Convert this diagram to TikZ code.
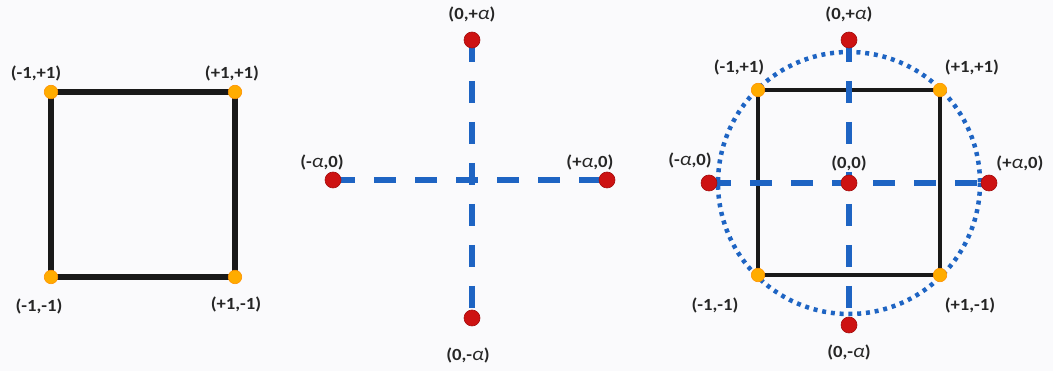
\documentclass[tikz,border=0pt]{standalone}
\usepackage{fontspec}
\setmainfont{Carlito}[FakeStretch=1.1]
\definecolor{dashblue}{RGB}{30,100,195}
\definecolor{dotred}{RGB}{205,18,18}
\definecolor{dotorange}{RGB}{255,172,0}
\definecolor{bgcol}{RGB}{250,250,252}
\newcommand{\al}{{\mdseries\fontsize{19}{19}\selectfont\textit{α}}}
\pgfdeclarelayer{paper}
\pgfdeclarelayer{under}
\pgfsetlayers{paper,under,main}
\begin{document}
\begin{tikzpicture}[x=1pt,y=-1pt,
  reddot/.style={circle,fill=dotred,draw=dotred!80!black,line width=0.6pt,inner sep=0pt,minimum size=16pt},
  orangedot/.style={circle,fill=dotorange,draw=dotorange!85!red,line width=0.6pt,inner sep=0pt,minimum size=13.5pt},
  lbl/.style={font=\fontsize{17}{19}\selectfont\bfseries,inner sep=0pt,text=black!85},
  sqedge/.style={line width=5.2pt,black!90},
  axis/.style={line width=5.5pt,dashblue,dash pattern=on 22pt off 19pt},
  ring/.style={line width=4.5pt,dashblue,dash pattern=on 4pt off 4.8pt}
]
\begin{pgfonlayer}{paper}
\fill[bgcol] (0,0) rectangle (1053,371);
\end{pgfonlayer}
\useasboundingbox (0,0) rectangle (1053,371);

% ---------- left panel ----------
\node[orangedot] (LTL) at (51,92) {};
\node[orangedot] (LTR) at (235,92) {};
\node[orangedot] (LBR) at (235,277) {};
\node[orangedot] (LBL) at (51,277) {};
\begin{pgfonlayer}{under}
\draw[sqedge] (LTL.center) -- (LTR.center) -- (LBR.center) -- (LBL.center) -- cycle;
\end{pgfonlayer}
\node[lbl] (l1) at (36,73) {(-1,+1)};
\node[lbl] (l2) at (232,73) {(+1,+1)};
\node[lbl] (l3) at (39,306) {(-1,-1)};
\node[lbl] (l4) at (236,304) {(+1,-1)};

% ---------- middle panel ----------
\node[reddot] (MT) at (472,40) {};
\node[reddot] (MB) at (472,318) {};
\node[reddot] (ML) at (333,180) {};
\node[reddot] (MR) at (607,180) {};
\begin{pgfonlayer}{under}
\draw[axis] (ML.center) -- (MR.center);
\draw[axis] (MT.center) -- (MB.center);
\end{pgfonlayer}
\node[lbl] (m1) at (472,14) {(0,+\al)};
\node[lbl] (m2) at (322,162) {(-\al,0)};
\node[lbl] (m3) at (590,162) {(+\al,0)};
\node[lbl] (m4) at (468,355) {(0,-\al)};

% ---------- right panel ----------
\node[reddot] (RC) at (849,183) {};
\node[orangedot] (RTL) at (758,90) {};
\node[orangedot] (RTR) at (940,90) {};
\node[orangedot] (RBR) at (940,275) {};
\node[orangedot] (RBL) at (758,275) {};
\node[reddot] (RT) at (849,40) {};
\node[reddot] (RB) at (849,325) {};
\node[reddot] (RL) at (709,183) {};
\node[reddot] (RR) at (989,183) {};
\begin{pgfonlayer}{under}
\draw[ring] (RC.center) circle (131);
\draw[line width=4.6pt,black!90] (RTL.center) -- (RTR.center) -- (RBR.center) -- (RBL.center) -- cycle;
\draw[axis] (RL.center) -- (RR.center);
\draw[axis] (RT.center) -- (RB.center);
\end{pgfonlayer}
\node[lbl] (r1) at (849,14) {(0,+\al)};
\node[lbl] (r2) at (739,67) {(-1,+1)};
\node[lbl] (r3) at (972,67) {(+1,+1)};
\node[lbl] (r4) at (690,160) {(-\al,0)};
\node[lbl,fill=bgcol,inner sep=1.5pt] (r5) at (849,163) {(0,0)};
\node[lbl] (r6) at (1020,163) {(+\al,0)};
\node[lbl] (r7) at (715,305) {(-1,-1)};
\node[lbl] (r8) at (970,305) {(+1,-1)};
\node[lbl] (r9) at (849,352) {(0,-\al)};
\end{tikzpicture}
\end{document}
